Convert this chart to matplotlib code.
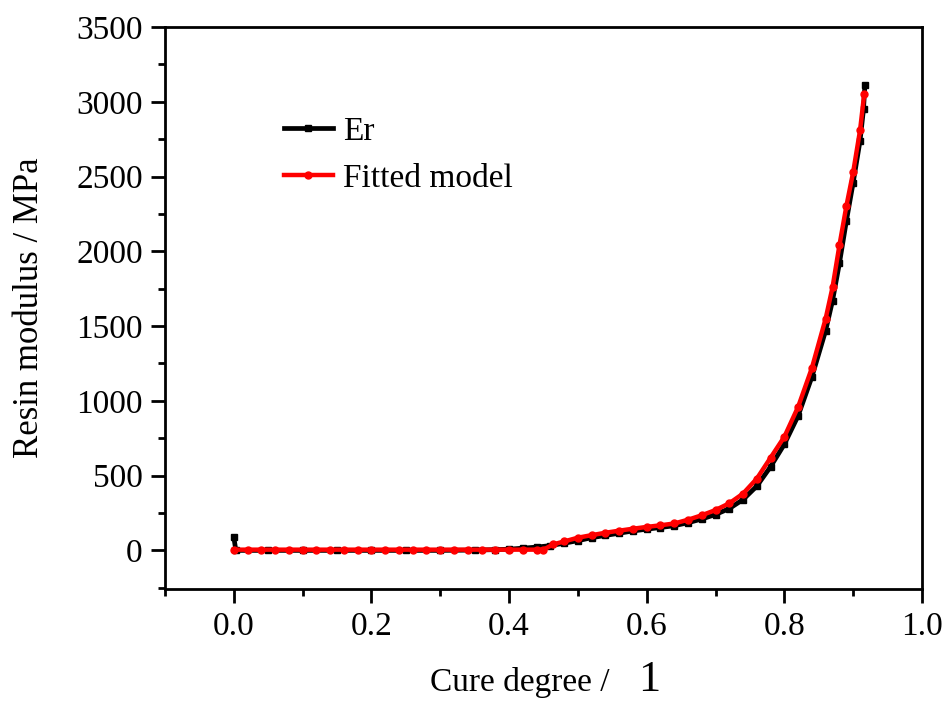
import numpy as np
import matplotlib.pyplot as plt
from matplotlib.ticker import MultipleLocator

plt.rcParams['font.family'] = ['Liberation Serif', 'DejaVu Serif']

# measured resin modulus (Er)
er_x = [0.0, 0.003, 0.05, 0.10, 0.15, 0.20, 0.25, 0.30, 0.35, 0.38, 0.40, 0.42,
        0.44, 0.46, 0.48, 0.50, 0.52, 0.54, 0.56, 0.58, 0.60, 0.62, 0.64, 0.66,
        0.68, 0.70, 0.72, 0.74, 0.76, 0.78, 0.80, 0.82, 0.84, 0.86, 0.87, 0.88,
        0.89, 0.90, 0.91, 0.915, 0.917]
er_y = [90, 0, 0, 0, 0, 0, 0, 0, 2, 5, 8, 15,
        22, 32, 48, 65, 85, 100, 115, 130, 142, 153, 165, 185,
        210, 240, 280, 340, 430, 560, 710, 900, 1160, 1470, 1670, 1920,
        2200, 2460, 2740, 2950, 3110]

# fitted model
fit_x = [0.0, 0.02, 0.04, 0.06, 0.08, 0.10, 0.12, 0.14, 0.16, 0.18, 0.20, 0.22,
         0.24, 0.26, 0.28, 0.30, 0.32, 0.34, 0.36, 0.38, 0.40, 0.42, 0.44, 0.45,
         0.464, 0.48, 0.50, 0.52, 0.54, 0.56, 0.58, 0.60, 0.62, 0.64, 0.66, 0.68,
         0.70, 0.72, 0.74, 0.76, 0.78, 0.80, 0.82, 0.84, 0.86, 0.87, 0.88, 0.89,
         0.90, 0.91, 0.916]
fit_y = [5, 5, 5, 5, 5, 5, 5, 5, 5, 5, 5, 5,
         5, 5, 5, 5, 5, 5, 5, 5, 5, 5, 5, 5,
         40, 60, 85, 102, 118, 132, 145, 157, 168, 180, 205, 235,
         270, 315, 380, 480, 620, 760, 960, 1220, 1550, 1760, 2040, 2300,
         2530, 2810, 3050]

fig = plt.figure(figsize=(9.47, 7.02), dpi=100)
ax = fig.add_axes([0.1742, 0.161, 0.7994, 0.8005])

ax.plot(er_x, er_y, color='black', lw=3.4, marker='s', ms=4.5, label='Er')
ax.plot(fit_x, fit_y, color='red', lw=3.2, marker='o', ms=5, label='Fitted model')

ax.set_xlim(-0.1, 1.0)
ax.set_ylim(-258, 3500)
ax.xaxis.set_minor_locator(MultipleLocator(0.1))
ax.yaxis.set_minor_locator(MultipleLocator(250))
ax.set_xticks(np.arange(0, 1.01, 0.2))
ax.set_xticklabels(['0.0', '0.2', '0.4', '0.6', '0.8', '1.0'])
ax.set_yticks(np.arange(0, 3501, 500))
ax.tick_params(which='major', direction='out', length=10, width=2, labelsize=24, pad=6)
ax.tick_params(which='minor', direction='out', length=5, width=2)
for s in ax.spines.values():
    s.set_linewidth(2)

ax.set_ylabel('Resin modulus / MPa', fontsize=25, labelpad=22)
fig.text(0.652, 0.016, 'Cure degree / ', fontsize=24, ha='right', va='baseline')
fig.text(0.674, 0.016, '1', fontsize=32, ha='left', va='baseline')

ax.legend(loc='upper left', bbox_to_anchor=(0.118, 0.895), frameon=False,
          fontsize=24, handlelength=1.45, handletextpad=0.3, labelspacing=0.5)

fig.savefig('out.png', dpi=100)
